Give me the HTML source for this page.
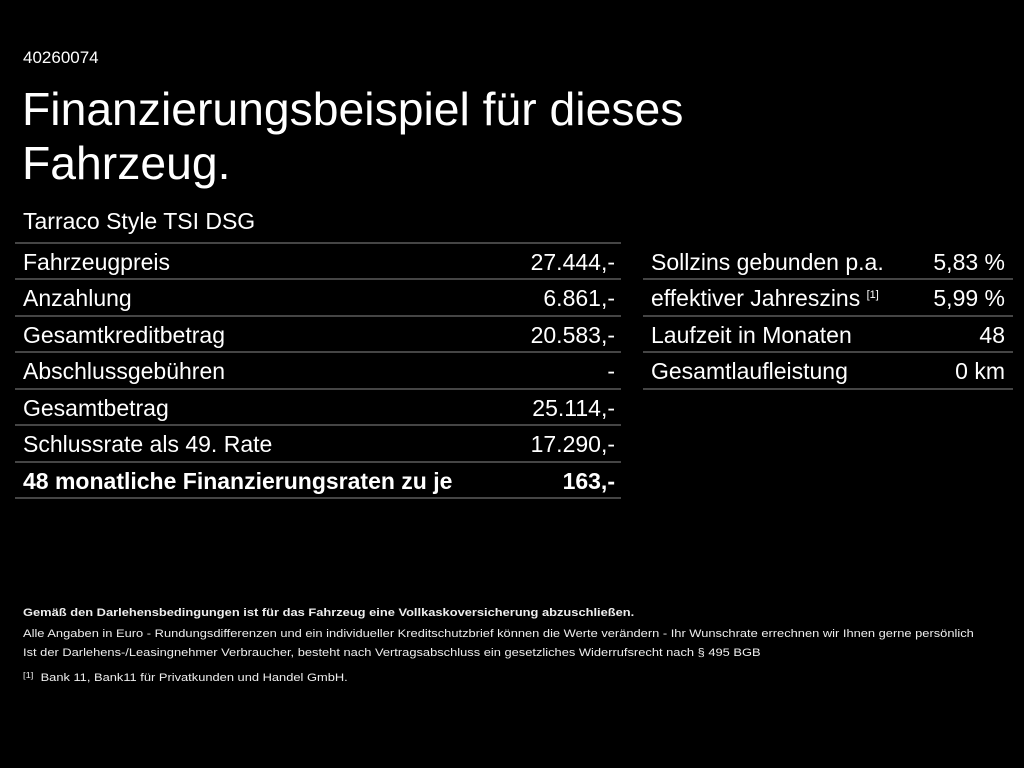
<!DOCTYPE html>
<html><head><meta charset="utf-8"><style>
body{margin:0;width:1024px;height:768px;background:#000;color:#fff;font-family:"Liberation Sans",Arial,sans-serif;position:relative;overflow:hidden}
.a{position:absolute;white-space:nowrap}
.l{position:absolute;height:2px;background:#454545}
.r{position:absolute;font-size:23px;line-height:36px;height:36px}
.r span{position:absolute;top:0}
.f{font-size:11px;color:#eee;transform:scaleX(1.17);transform-origin:0 0}
</style></head><body>
<div class="a" style="left:23px;top:48px;font-size:17px">40260074</div>
<div class="a" style="left:22px;top:82px;font-size:46.3px;line-height:54px">Finanzierungsbeispiel für dieses<br>Fahrzeug.</div>
<div class="a" style="left:23px;top:208px;font-size:23px">Tarraco Style TSI DSG</div>

<div class="l" style="left:15px;width:606px;top:242px"></div>
<div class="l" style="left:15px;width:606px;top:278px"></div>
<div class="l" style="left:15px;width:606px;top:315px"></div>
<div class="l" style="left:15px;width:606px;top:351px"></div>
<div class="l" style="left:15px;width:606px;top:388px"></div>
<div class="l" style="left:15px;width:606px;top:424px"></div>
<div class="l" style="left:15px;width:606px;top:461px"></div>
<div class="l" style="left:15px;width:606px;top:497px"></div>

<div class="l" style="left:643px;width:370px;top:278px"></div>
<div class="l" style="left:643px;width:370px;top:315px"></div>
<div class="l" style="left:643px;width:370px;top:351px"></div>
<div class="l" style="left:643px;width:370px;top:388px"></div>

<div class="r" style="left:23px;width:592px;top:244px"><span style="left:0">Fahrzeugpreis</span><span style="right:0">27.444,-</span></div>
<div class="r" style="left:23px;width:592px;top:280px"><span style="left:0">Anzahlung</span><span style="right:0">6.861,-</span></div>
<div class="r" style="left:23px;width:592px;top:317px"><span style="left:0">Gesamtkreditbetrag</span><span style="right:0">20.583,-</span></div>
<div class="r" style="left:23px;width:592px;top:353px"><span style="left:0">Abschlussgebühren</span><span style="right:0">-</span></div>
<div class="r" style="left:23px;width:592px;top:390px"><span style="left:0">Gesamtbetrag</span><span style="right:0">25.114,-</span></div>
<div class="r" style="left:23px;width:592px;top:426px"><span style="left:0">Schlussrate als 49. Rate</span><span style="right:0">17.290,-</span></div>
<div class="r" style="left:23px;width:592px;top:463px;font-weight:bold"><span style="left:0">48 monatliche Finanzierungsraten zu je</span><span style="right:0">163,-</span></div>

<div class="r" style="left:651px;width:354px;top:244px"><span style="left:0">Sollzins gebunden p.a.</span><span style="right:0">5,83 %</span></div>
<div class="r" style="left:651px;width:354px;top:280px"><span style="left:0">effektiver Jahreszins <span style="position:relative;top:-8px;font-size:11px">[1]</span></span><span style="right:0">5,99 %</span></div>
<div class="r" style="left:651px;width:354px;top:317px"><span style="left:0">Laufzeit in Monaten</span><span style="right:0">48</span></div>
<div class="r" style="left:651px;width:354px;top:353px"><span style="left:0">Gesamtlaufleistung</span><span style="right:0">0 km</span></div>

<div class="a f" style="left:23px;top:607px;font-weight:bold">Gemäß den Darlehensbedingungen ist für das Fahrzeug eine Vollkaskoversicherung abzuschließen.</div>
<div class="a f" style="left:23px;top:628px">Alle Angaben in Euro - Rundungsdifferenzen und ein individueller Kreditschutzbrief können die Werte verändern - Ihr Wunschrate errechnen wir Ihnen gerne persönlich</div>
<div class="a f" style="left:23px;top:647px">Ist der Darlehens-/Leasingnehmer Verbraucher, besteht nach Vertragsabschluss ein gesetzliches Widerrufsrecht nach § 495 BGB</div>
<div class="a f" style="left:23px;top:672px"><span style="font-size:8px;position:relative;top:-3px">[1]</span>&nbsp; Bank 11, Bank11 für Privatkunden und Handel GmbH.</div>
</body></html>
